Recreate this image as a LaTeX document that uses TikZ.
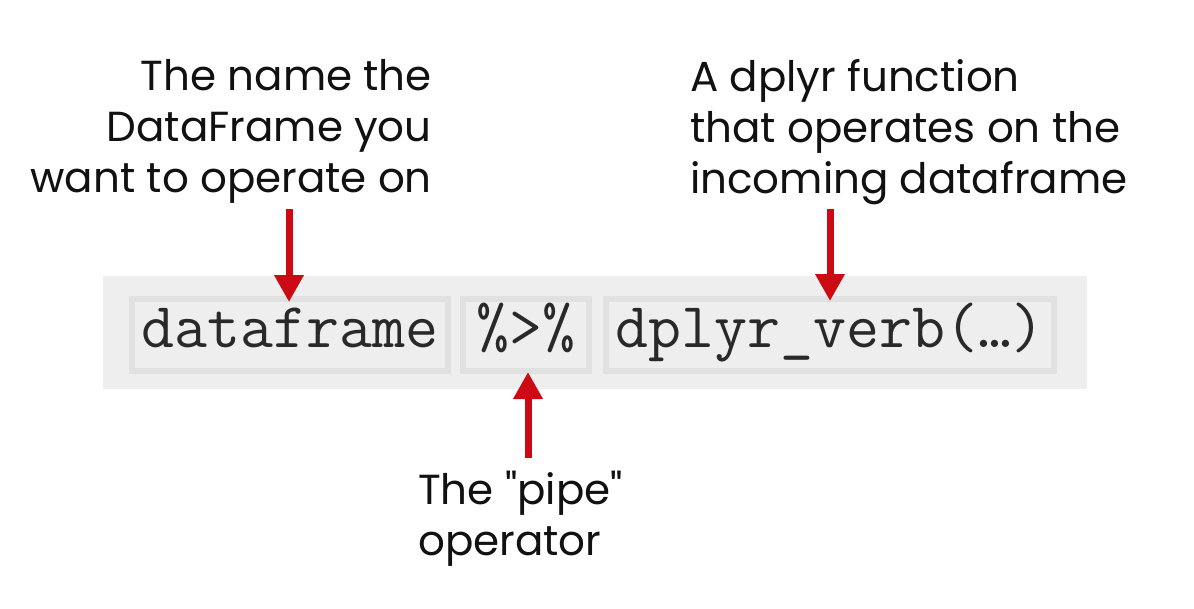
\documentclass[tikz,border=0pt]{standalone}
\usepackage{fontspec}
\setmainfont{Poppins}[Ligatures=TeXOff]
\usetikzlibrary{arrows.meta}
\definecolor{outerbg}{RGB}{238,238,238}
\definecolor{innerln}{RGB}{225,225,225}
\definecolor{arrred}{RGB}{204,10,20}
\definecolor{txt}{RGB}{17,17,17}
\begin{document}
\begin{tikzpicture}[x=1pt,y=-1pt,
  codebox/.style={draw=innerln,fill=outerbg,line width=6pt,inner sep=0pt,
     text height=35pt,text depth=11pt,
     font=\ttfamily\fontsize{64}{68}\selectfont,text=txt!90!white},
  lbl/.style={inner sep=0pt,text=txt,font=\fontsize{42}{51}\selectfont},
  redarrow/.style={draw=arrred,line width=7pt,-{Triangle[width=28pt,length=27pt]}}
]
\useasboundingbox (0,0) rectangle (1194,608);
\fill[white] (0,0) rectangle (1194,608);
% outer background
\node[fill=outerbg,inner sep=0pt,minimum width=984pt,minimum height=113pt,anchor=north west] (outer) at (103,276) {};
% code boxes
\node[codebox,minimum width=316pt,minimum height=72pt] (df) at (290,335) {dataframe};
\node[codebox,minimum width=126pt,minimum height=72pt] (pipe) at (526,335) {\%>\%};
\node[codebox,minimum width=448pt,minimum height=72pt] (verb) at (830,335) {dplyr\_verb(…)};
% labels
\node[lbl,align=right,anchor=north east] (ldf) at (432,59) {The name the\\DataFrame you\\want to operate on};
\node[lbl,align=left,anchor=north west] (lverb) at (690,59) {A dplyr function\\that operates on the\\incoming dataframe};
\node[lbl,align=left,anchor=north west] (lpipe) at (418,471) {The "pipe"\\operator};
% arrows
\coordinate (a1s) at (289,209);
\coordinate (a2s) at (830,209);
\coordinate (a3s) at (528,458);
\draw[redarrow] (a1s) -- ([yshift=-6pt]df.north -| a1s);
\draw[redarrow] (a2s) -- ([yshift=-5pt]verb.north -| a2s);
\draw[redarrow] (a3s) -- ([yshift=2pt]pipe.south -| a3s);
\end{tikzpicture}
\end{document}
